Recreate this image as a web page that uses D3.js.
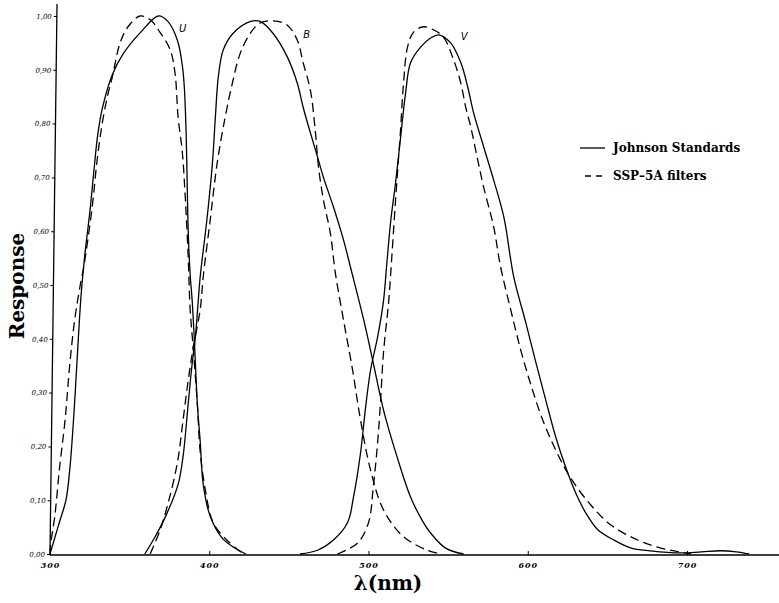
<!DOCTYPE html>
<html>
<head>
<meta charset="utf-8">
<script src="https://d3js.org/d3.v7.min.js"></script>
<style>
  body { margin: 0; background: #fff; }
  svg { display: block; }
</style>
</head>
<body>
<div id="my_chart"></div>
<script>

// ======================= //
// DATA
// ======================= //

// [wavelength (nm), response]
var uJohnson = [[300,0],[302,0.02],[306,0.06],[310,0.10],[312.5,0.16],[315,0.26],[317,0.36],[319.5,0.48],[322,0.56],[325,0.635],[327.5,0.71],[330,0.78],[333,0.83],[339,0.89],[346,0.93],[357,0.97],[368,1.00],[374,0.99],[380,0.955],[383,0.91],[384.3,0.87],[385.5,0.78],[386.2,0.68],[386.8,0.60],[388,0.52],[389.3,0.47],[390.6,0.40],[392.5,0.28],[394.3,0.21],[396.2,0.13],[400.6,0.07],[408,0.03],[415,0.013],[423,0]]
var uSSP = [[300,0],[300.5,0.02],[303,0.07],[306,0.16],[309.5,0.25],[312.5,0.355],[315.5,0.435],[319,0.50],[321,0.53],[326.5,0.645],[329.5,0.73],[332.5,0.795],[336,0.85],[339,0.885],[344,0.95],[349,0.98],[356.5,1.00],[363,0.993],[369,0.97],[375.5,0.937],[378.5,0.894],[380.5,0.81],[383,0.75],[385,0.66],[386.8,0.55],[388,0.455],[390,0.38],[392.5,0.28],[394.3,0.19],[397.5,0.12],[402.5,0.058],[411,0.026],[421.5,0]]

var bJohnson = [[359.5,0],[366,0.032],[373.5,0.076],[380.5,0.13],[383.5,0.18],[386.8,0.28],[389.3,0.355],[391.2,0.40],[393,0.467],[394.3,0.515],[398.7,0.626],[402,0.727],[403.8,0.81],[405.7,0.887],[408.8,0.937],[415,0.968],[426,0.99],[432,0.99],[440,0.968],[449,0.924],[455.3,0.875],[459,0.83],[463.5,0.783],[468,0.738],[471.7,0.70],[478,0.645],[484.3,0.584],[488.7,0.533],[497,0.435],[503,0.355],[509.4,0.268],[518,0.18],[526.4,0.106],[534.6,0.058],[539,0.039],[548.4,0.011],[559.7,0]]
var bSSP = [[362.9,0],[369.2,0.045],[374.2,0.095],[380,0.17],[383.6,0.25],[386.8,0.323],[390,0.385],[394.3,0.454],[396.2,0.515],[400.6,0.621],[405,0.727],[410,0.812],[414.5,0.875],[419.5,0.931],[425.8,0.968],[432,0.987],[440.3,0.991],[449,0.983],[455.3,0.955],[459,0.913],[463.5,0.862],[466.7,0.783],[468.6,0.719],[471.7,0.658],[476,0.597],[479.2,0.522],[484.3,0.435],[490,0.342],[495,0.249],[501.3,0.156],[509.4,0.082],[522,0.032],[537,0.007],[545.3,0]]

var vJohnson = [[457,0],[468,0.007],[478,0.026],[486.8,0.058],[490.6,0.106],[495,0.188],[498,0.268],[501.3,0.342],[505.7,0.403],[509.4,0.47],[511.5,0.54],[514,0.62],[517,0.69],[520,0.77],[523.3,0.857],[526.4,0.913],[532.7,0.942],[539,0.959],[544,0.965],[551.6,0.95],[558,0.913],[562.3,0.868],[566,0.82],[572.3,0.757],[578.6,0.695],[585,0.626],[591.2,0.515],[598.7,0.431],[605,0.357],[611.3,0.286],[617.6,0.217],[624,0.16],[630.2,0.113],[636.5,0.076],[644,0.045],[654,0.026],[665,0.011],[677,0.006],[696,0.002],[709,0.004],[721,0.006],[731,0.004],[739,0]]
var vSSP = [[480.5,0],[493,0.02],[500,0.058],[503,0.125],[505.7,0.206],[507.5,0.281],[509.4,0.374],[512.6,0.467],[513.8,0.515],[517,0.658],[520,0.783],[522,0.875],[524.5,0.942],[528.3,0.97],[534.6,0.98],[541,0.974],[547,0.961],[553.5,0.918],[558,0.875],[561,0.831],[564.2,0.794],[568.6,0.732],[572.3,0.682],[578.6,0.608],[583,0.533],[589.3,0.454],[595.6,0.379],[602,0.314],[609.4,0.249],[617.6,0.193],[627,0.141],[639.6,0.091],[652.2,0.054],[669,0.026],[683.6,0.011],[702.5,0]]

// band names, with the wavelength / response where their letter sits
var bandNames = ["U", "B", "V"]
var bandLabelPos = [[381, 0.97], [459, 0.96], [558, 0.955]]

var xTicks = [300, 400, 500, 600, 700]
var yTicks = [0, 0.1, 0.2, 0.3, 0.4, 0.5, 0.6, 0.7, 0.8, 0.9, 1.0]

var legendNames = ["Johnson Standards", "SSP\u20135A filters"]


// ======================= //
// SVG AREA
// ======================= //

var width = 779,
    height = 603;

var svg = d3.select("#my_chart")
  .append("svg")
    .attr("width", width)
    .attr("height", height)

var serif = "'DejaVu Serif', 'Liberation Serif', serif"


// ======================= //
// AXIS AND SCALES
// ======================= //

var x = d3.scaleLinear()
  .domain([300, 700])
  .range([50, 687]);

var y = d3.scaleLinear()
  .domain([0, 1])
  .range([554, 16]);

// X axis: runs to the right edge of the sheet
var xAxis = svg.append("g")
  .attr("transform", "translate(0," + (y(0) + 1) + ")")
  .call(d3.axisBottom(x)
    .tickValues(xTicks)
    .tickSizeInner(-4)
    .tickSizeOuter(0)
    .tickPadding(7)
    .tickFormat(d3.format("d")))
xAxis.select(".domain").remove()
xAxis.append("line")
  .attr("x1", x(300))
  .attr("x2", width)
  .attr("stroke", "black")
  .attr("stroke-width", 1.3)
xAxis.selectAll("text")
  .style("font-family", serif)
  .style("font-style", "italic")
  .style("font-weight", "bold")
  .style("font-size", "8px")
  .style("letter-spacing", "1px")
  .attr("fill", "black")

// Y axis, hand drawn so it leans a little
var lean = -0.73
var yAxis = svg.append("g")
  .attr("transform", "translate(" + x(300) + "," + y(0) + ") skewX(" + lean + ") translate(0," + (-y(0)) + ")")
  .call(d3.axisLeft(y)
    .tickValues(yTicks)
    .tickSizeInner(3)
    .tickSizeOuter(0)
    .tickPadding(2)
    .tickFormat(function(d){ return d3.format(".2f")(d).replace(".", ",") }))
yAxis.select(".domain").remove()
yAxis.append("line")
  .attr("y1", y(0) + 1)
  .attr("y2", y(1) - 12)
  .attr("stroke", "black")
  .attr("stroke-width", 1.3)
yAxis.selectAll("text")
  .style("font-family", serif)
  .style("font-style", "italic")
  .style("font-size", "7px")
  .attr("fill", "black")

// Axis titles
svg.append("text")
  .attr("transform", "translate(24,286) rotate(-90)")
  .attr("text-anchor", "middle")
  .style("font-family", serif)
  .style("font-weight", "bold")
  .style("font-size", "20px")
  .text("Response")

svg.append("text")
  .attr("x", 388)
  .attr("y", 590)
  .attr("text-anchor", "middle")
  .style("font-family", serif)
  .style("font-weight", "bold")
  .style("font-size", "20px")
  .text("\u03bb(nm)")


// ======================= //
// CURVES
// ======================= //

var line = d3.line()
  .x(function(d){ return x(d[0]) })
  .y(function(d){ return y(d[1]) })
  .curve(d3.curveCatmullRom.alpha(0.5))

var solidCurves = [uJohnson, bJohnson, vJohnson]
var dashedCurves = [uSSP, bSSP, vSSP]

svg.selectAll("solidCurve")
  .data(solidCurves)
  .enter()
  .append("path")
    .attr("d", line)
    .attr("fill", "none")
    .attr("stroke", "black")
    .attr("stroke-width", 1.3)

svg.selectAll("dashedCurve")
  .data(dashedCurves)
  .enter()
  .append("path")
    .attr("d", line)
    .attr("fill", "none")
    .attr("stroke", "black")
    .attr("stroke-width", 1.3)
    .style("stroke-dasharray", ("9, 5"))

// Band letters
svg.selectAll("bandLabel")
  .data(bandNames)
  .enter()
  .append("text")
    .attr("x", function(d,i){ return x(bandLabelPos[i][0]) })
    .attr("y", function(d,i){ return y(bandLabelPos[i][1]) })
    .text(function(d){ return d })
    .style("font-family", "'DejaVu Sans', sans-serif")
    .style("font-style", "italic")
    .style("font-size", "10px")


// ======================= //
// LEGEND
// ======================= //

var legendY = [148, 176]
var legend = svg.selectAll("legendItem")
  .data(legendNames)
  .enter()
  .append("g")
    .attr("transform", function(d,i){ return "translate(0," + legendY[i] + ")" })

legend.append("line")
  .attr("x1", function(d,i){ return i == 0 ? 580 : 585 })
  .attr("x2", 605)
  .attr("stroke", "black")
  .attr("stroke-width", 1.3)
  .style("stroke-dasharray", function(d,i){ return i == 0 ? null : "6, 5" })

legend.append("text")
  .attr("x", 613)
  .attr("y", 4)
  .text(function(d){ return d })
  .style("font-family", serif)
  .style("font-weight", "bold")
  .style("font-size", "12px")

</script>
</body>
</html>
